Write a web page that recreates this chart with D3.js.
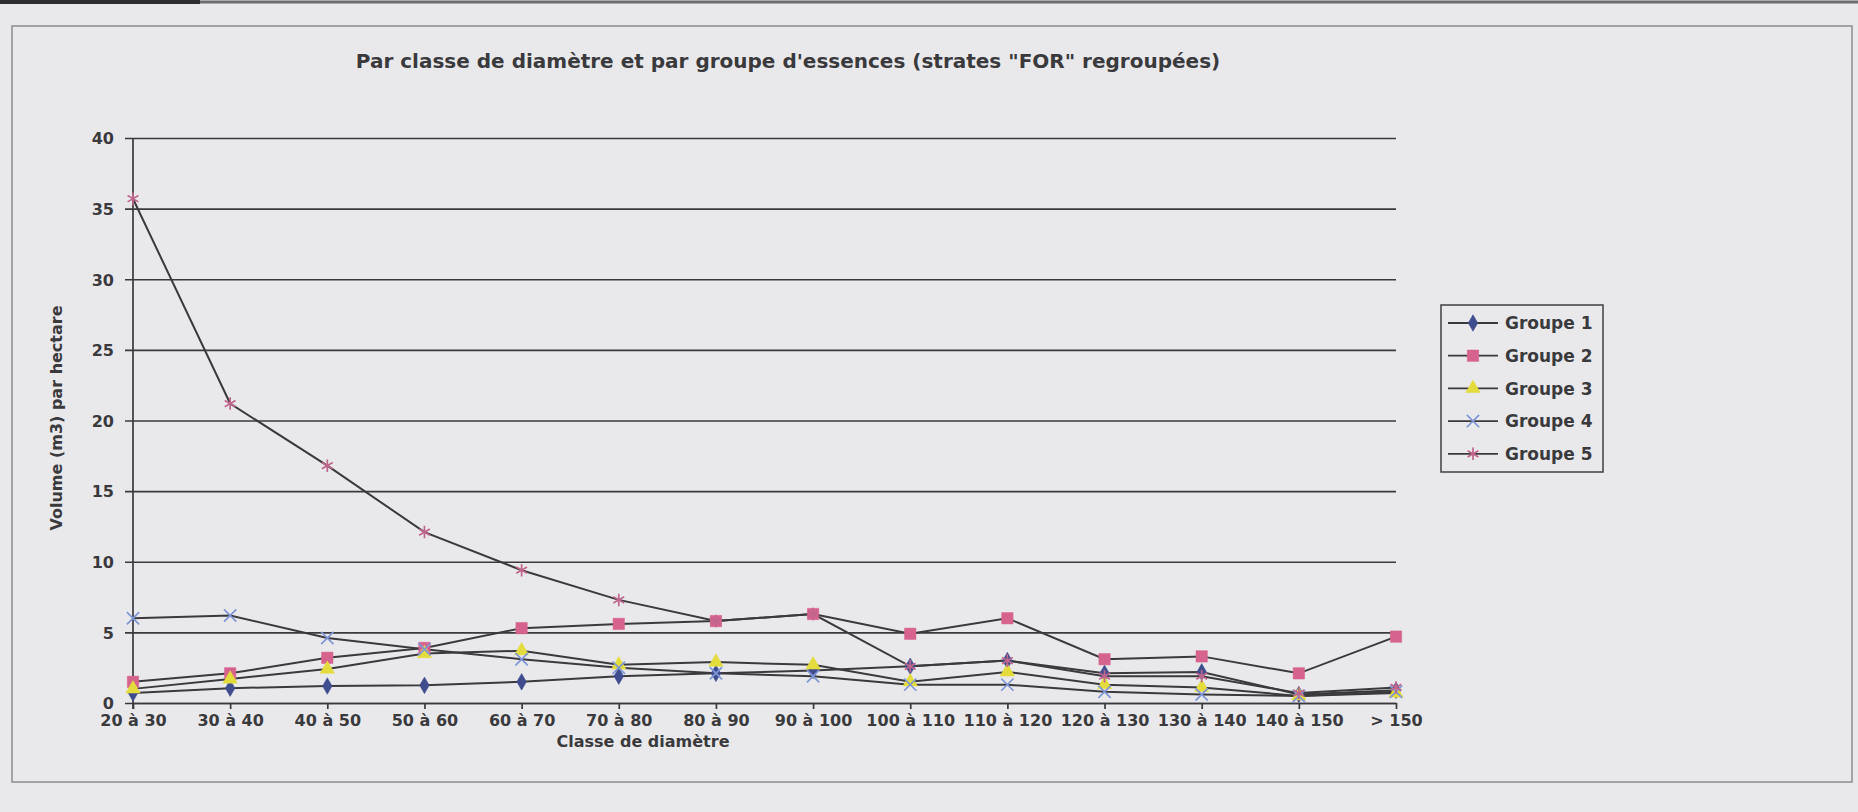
<!DOCTYPE html>
<html>
<head>
<meta charset="utf-8">
<script src="https://cdn.jsdelivr.net/npm/d3@7"></script>
<style>
body { margin: 0; background: #e9e9ec; }
svg { display: block; }
text { font-family: "DejaVu Sans", sans-serif; font-weight: bold; fill: #3a3a3d; }
.grid line { stroke: #3a3a3d; stroke-width: 1.7; }
.grid .domain { display: none; }
.xaxis .domain, .xaxis line { stroke: #3a3a3d; stroke-width: 1.7; }
.serie { fill: none; stroke: #3a3a3d; stroke-width: 2; }
</style>
</head>
<body>
<div id="chart"></div>
<script>

// classes de diametre (axe x)
var classes = ["20 à 30", "30 à 40", "40 à 50", "50 à 60", "60 à 70", "70 à 80", "80 à 90",
               "90 à 100", "100 à 110", "110 à 120", "120 à 130", "130 à 140", "140 à 150", "> 150"];

// volume (m3) par hectare
var groupe1 = [0.7, 1.05, 1.2, 1.25, 1.5, 1.9, 2.1, 2.3, 2.6, 3.0, 2.1, 2.2, 0.6, 0.9];
var groupe2 = [1.5, 2.1, 3.2, 3.9, 5.3, 5.6, 5.8, 6.3, 4.9, 6.0, 3.1, 3.3, 2.1, 4.7];
var groupe3 = [1.0, 1.7, 2.4, 3.5, 3.7, 2.7, 2.9, 2.7, 1.5, 2.2, 1.3, 1.1, 0.5, 0.7];
var groupe4 = [6.0, 6.2, 4.6, 3.8, 3.1, 2.5, 2.1, 1.9, 1.3, 1.3, 0.8, 0.6, 0.5, 0.8];
var groupe5 = [35.7, 21.2, 16.8, 12.1, 9.4, 7.3, 5.8, 6.3, 2.6, 3.0, 1.9, 1.9, 0.7, 1.1];

var noms = ["Groupe 1", "Groupe 2", "Groupe 3", "Groupe 4", "Groupe 5"];
var yTicks = [0, 5, 10, 15, 20, 25, 30, 35, 40];

var W = 1858, H = 812;
var plot = {left: 133, right: 1396, top: 138, bottom: 703};

var svg = d3.select("#chart").append("svg")
  .attr("width", W)
  .attr("height", H);

// bande sombre du scan + cadre
svg.append("line")
  .attr("x1", 0).attr("x2", W).attr("y1", 2).attr("y2", 2)
  .attr("stroke", "#6b6b70").attr("stroke-width", 3);
svg.append("line")
  .attr("x1", 0).attr("x2", 200).attr("y1", 2).attr("y2", 2)
  .attr("stroke", "#2e2e30").attr("stroke-width", 4);
svg.append("rect")
  .attr("x", 12).attr("y", 26)
  .attr("width", 1840).attr("height", 756)
  .attr("fill", "none")
  .attr("stroke", "#8c8c90")
  .attr("stroke-width", 1.5);

var x = d3.scalePoint().domain(classes).range([plot.left, plot.right]);
var y = d3.scaleLinear().domain([0, 40]).range([plot.bottom, plot.top]);

// grille horizontale + graduations y
var yAxis = d3.axisLeft(y)
  .tickValues(yTicks)
  .tickSize(-(plot.right - plot.left))
  .tickSizeOuter(0)
  .tickPadding(0);

var gy = svg.append("g")
  .attr("class", "grid")
  .attr("transform", "translate(" + plot.left + ",0)")
  .call(yAxis);
gy.selectAll(".tick line").attr("x1", -8);
gy.selectAll(".tick text")
  .attr("x", -19)
  .attr("dy", "0.36em")
  .style("font-size", "16px");

// axe vertical
svg.append("line")
  .attr("x1", plot.left).attr("x2", plot.left)
  .attr("y1", plot.top).attr("y2", plot.bottom + 6)
  .attr("stroke", "#3a3a3d").attr("stroke-width", 1.7);

var xAxis = d3.axisBottom(x)
  .tickSize(6)
  .tickSizeOuter(0)
  .tickPadding(6);

var gx = svg.append("g")
  .attr("class", "xaxis")
  .attr("transform", "translate(0," + plot.bottom + ")")
  .call(xAxis);
gx.selectAll(".tick text").style("font-size", "16px");

// series
var series = [
  {nom: noms[0], valeurs: groupe1, couleur: "#3f4c8e", symbole: d3.symbolDiamond, taille: 80, plein: true},
  {nom: noms[1], valeurs: groupe2, couleur: "#d6628e", symbole: d3.symbolSquare, taille: 130, plein: true},
  {nom: noms[2], valeurs: groupe3, couleur: "#e4dc3c", symbole: d3.symbolTriangle, taille: 90, plein: true},
  {nom: noms[3], valeurs: groupe4, couleur: "#7f96d6", symbole: d3.symbolTimes, taille: 100, plein: false},
  {nom: noms[4], valeurs: groupe5, couleur: "#c0668c", symbole: d3.symbolAsterisk, taille: 110, plein: false}
];

var line = d3.line()
  .x(function(d, i) { return x(classes[i]); })
  .y(function(d) { return y(d); });

series.forEach(function(s) {
  svg.append("path")
    .attr("class", "serie")
    .attr("d", line(s.valeurs));
});

function marker(sel, s) {
  sel.attr("d", d3.symbol().type(s.symbole).size(s.taille))
    .attr("fill", s.plein ? s.couleur : "none")
    .attr("stroke", s.couleur)
    .attr("stroke-width", s.plein ? 0.5 : 1.7);
}

series.forEach(function(s) {
  svg.append("g").selectAll("path")
    .data(s.valeurs)
    .enter().append("path")
    .attr("transform", function(d, i) { return "translate(" + x(classes[i]) + "," + y(d) + ")"; })
    .call(marker, s);
});

// titres
svg.append("text")
  .attr("x", 788).attr("y", 68)
  .attr("text-anchor", "middle")
  .style("font-size", "20px")
  .text("Par classe de diamètre et par groupe d'essences (strates \"FOR\" regroupées)");

svg.append("text")
  .attr("x", 643).attr("y", 747)
  .attr("text-anchor", "middle")
  .style("font-size", "16px")
  .text("Classe de diamètre");

svg.append("text")
  .attr("transform", "translate(62,418) rotate(-90)")
  .attr("text-anchor", "middle")
  .style("font-size", "16px")
  .text("Volume (m3) par hectare");

// legende
var leg = svg.append("g").attr("transform", "translate(1441,305)");
leg.append("rect")
  .attr("width", 162).attr("height", 167)
  .attr("fill", "none")
  .attr("stroke", "#4a4a4e")
  .attr("stroke-width", 1.6);

var items = leg.selectAll(".item")
  .data(series)
  .enter().append("g")
  .attr("class", "item")
  .attr("transform", function(d, i) { return "translate(0," + (18 + i * 32.7) + ")"; });

items.append("line")
  .attr("x1", 7).attr("x2", 57)
  .attr("stroke", "#3a3a3d").attr("stroke-width", 1.8);
items.append("path")
  .attr("transform", "translate(32,0)")
  .each(function(s) { d3.select(this).call(marker, s); });
items.append("text")
  .attr("x", 64)
  .attr("dy", "0.36em")
  .style("font-size", "17px")
  .text(function(s) { return s.nom; });

</script>
</body>
</html>
